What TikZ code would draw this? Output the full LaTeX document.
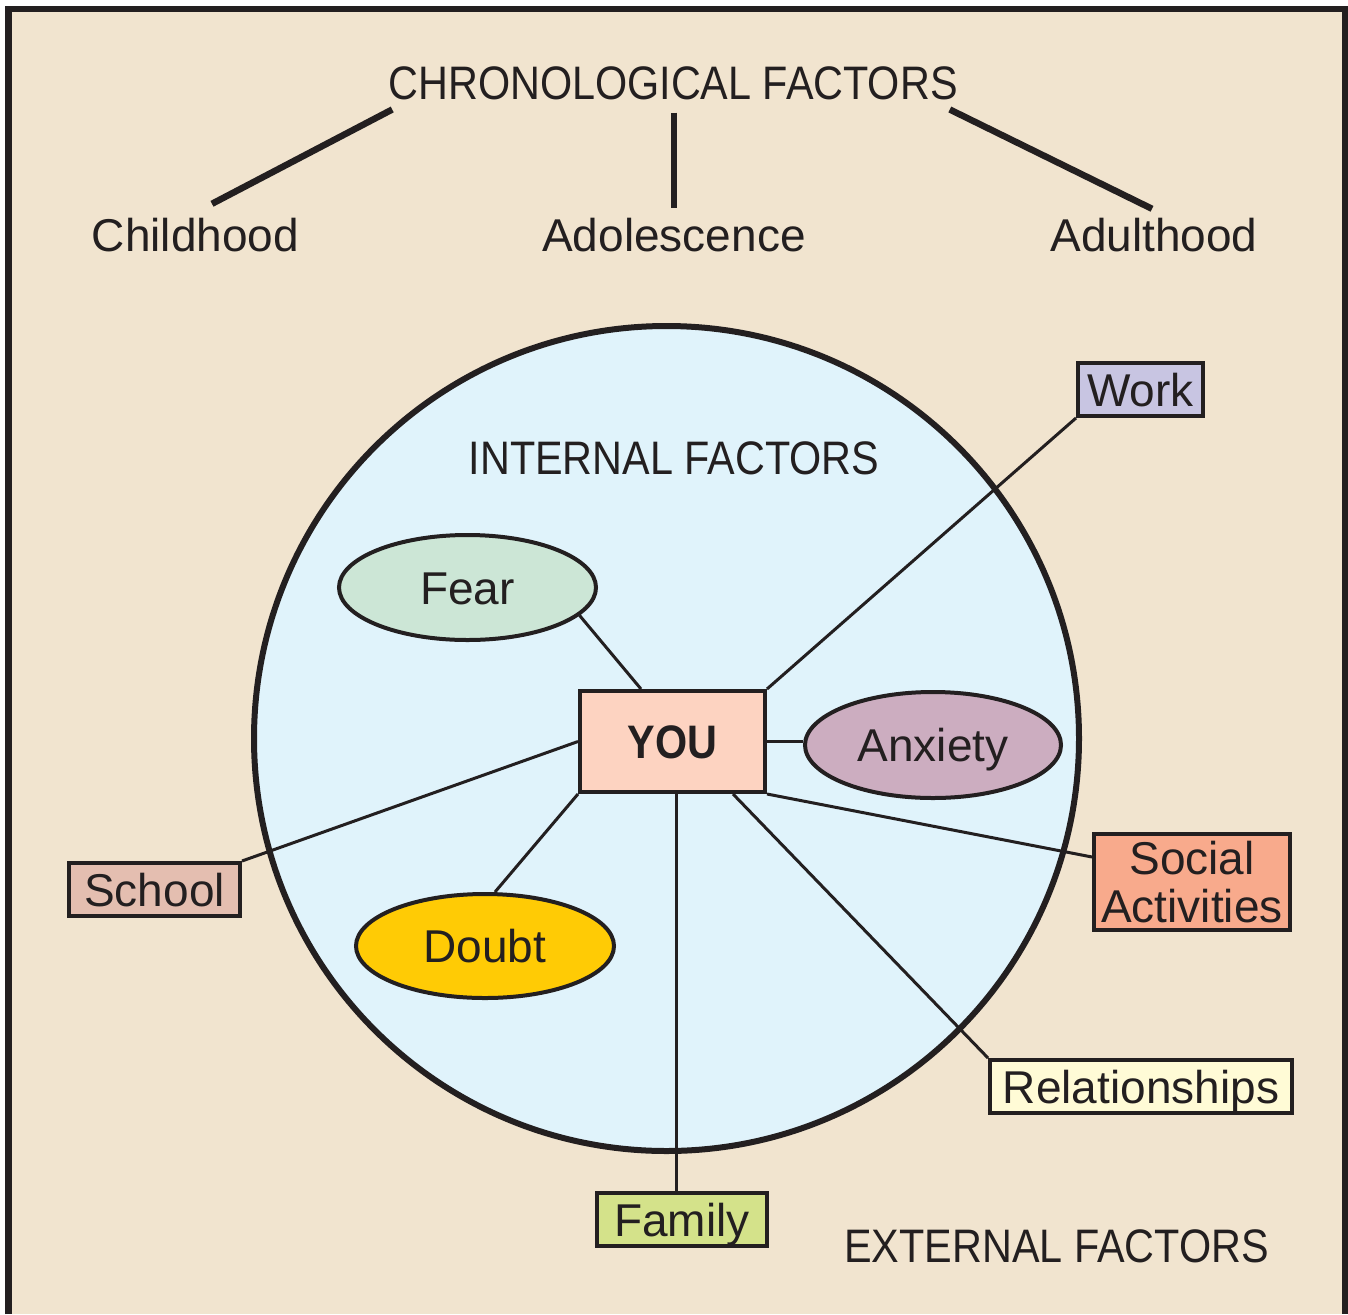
\documentclass[tikz,border=0pt]{standalone}
\usepackage{fontspec}
\setmainfont{Liberation Sans}
\newfontfamily\capsfont[FakeStretch=0.88]{Liberation Sans}
\usetikzlibrary{shapes.geometric,calc}
\definecolor{ink}{HTML}{231F20}
\definecolor{paper}{HTML}{F1E4CF}
\definecolor{sky}{HTML}{E0F3FB}
\definecolor{fearc}{HTML}{CCE6D6}
\definecolor{youc}{HTML}{FDD3C1}
\definecolor{anxc}{HTML}{CCADC0}
\definecolor{doubtc}{HTML}{FFCB05}
\definecolor{workc}{HTML}{C8C5E2}
\definecolor{schoolc}{HTML}{E4BEB0}
\definecolor{socialc}{HTML}{F8AA8C}
\definecolor{relc}{HTML}{FFFBD6}
\definecolor{famc}{HTML}{D4E28A}
\begin{document}
\begin{tikzpicture}[x=1pt,y=-1pt,
  txtbase/.style={inner sep=0pt, text=ink, font=\fontsize{46}{49}\selectfont},
  lbl/.style={txtbase, text height=33pt, text depth=0pt},
  caps/.style={inner sep=0pt, text=ink, font=\capsfont\fontsize{47}{50}\selectfont, text height=33.6pt, text depth=0pt},
  box/.style={lbl, rectangle, draw=ink, line width=4pt},
  boxml/.style={txtbase, rectangle, draw=ink, line width=4pt, align=center},
  oval/.style={lbl, ellipse, draw=ink, line width=4pt},
  link/.style={draw=ink, line width=3pt},
  chronoline/.style={draw=ink, line width=6.5pt},
]
\useasboundingbox (0,0) rectangle (1348,1314);
\fill[white] (0,0) rectangle (1348,1314);
\fill[paper] (8.5,9) rectangle (1345,1314);
\draw[ink, line width=6.5pt, line join=miter] (8.5,1314) -- (8.5,9) -- (1345,9) -- (1345,1314);

% chronological factors
\node[caps] (chrono) at (673,82.5) {CHRONOLOGICAL FACTORS};
\node[lbl] (child) at (195.5,234.5) {Childhood};
\node[lbl] (adol) at (674,234.5) {Adolescence};
\node[lbl] (adult) at (1154,234.5) {Adulthood};
\draw[chronoline] ($(chrono.south west)+(4,10)$) -- ($(child.north)+(16.5,-14)$);
\draw[chronoline] ($(adol.north |- chrono.south)+(0,13)$) -- ($(adol.north)+(0,-10)$);
\draw[chronoline] ($(chrono.south east)+(-8,10)$) -- ($(adult.north)+(-2,-9)$);

% internal circle
\node[circle, draw=ink, fill=sky, line width=6pt, minimum size=825pt, inner sep=0pt] (inner) at (666.5,738.5) {};
\node[caps] (internal) at (674,457.5) {INTERNAL FACTORS};

% nodes
\node[box, fill=youc, minimum width=185pt, minimum height=101pt, font=\capsfont\bfseries\fontsize{47}{50}\selectfont] (you) at (672.5,741.5) {YOU};
\node[oval, fill=fearc, minimum width=257pt, minimum height=105pt] (fear) at (467.5,587.5) {Fear};
\node[oval, fill=anxc, minimum width=256pt, minimum height=106pt] (anx) at (933,745) {Anxiety};
\node[oval, fill=doubtc, minimum width=258pt, minimum height=104pt] (doubt) at (485,946) {Doubt};
\node[box, fill=workc, minimum width=125pt, minimum height=53pt] (work) at (1140.5,389.5) {Work};
\node[box, fill=schoolc, minimum width=171pt, minimum height=53pt] (school) at (154.5,889.5) {School};
\node[boxml, fill=socialc, minimum width=196pt, minimum height=96pt] (social) at (1192,882) {Social\\[-1pt]Activities};
\node[box, fill=relc, minimum width=302pt, minimum height=53pt] (rel) at (1141,1086.5) {Relationships};
\node[box, fill=famc, minimum width=170pt, minimum height=53pt] (family) at (682,1219.5) {Family};
\node[caps] (external) at (1056.5,1245.5) {EXTERNAL FACTORS};

% connectors
\coordinate (fy) at ($(you.south)+(3.5,0)$);
\draw[link] (fear.-14) -- ($(you.north)+(-31.5,0)$);
\draw[link] (you.north east) -- (work.south west);
\draw[link] (you.east) -- (you.east -| anx.west);
\draw[link] (you.west) -- (school.north east);
\draw[link] (you.south west) -- ($(doubt.north)+(10,0)$);
\draw[link] (fy) -- (fy |- family.north);
\draw[link] ($(you.south)+(60.5,0)$) -- (rel.north west);
\draw[link] (you.south east) -- ($(social.north west)+(0,25)$);
\end{tikzpicture}
\end{document}
